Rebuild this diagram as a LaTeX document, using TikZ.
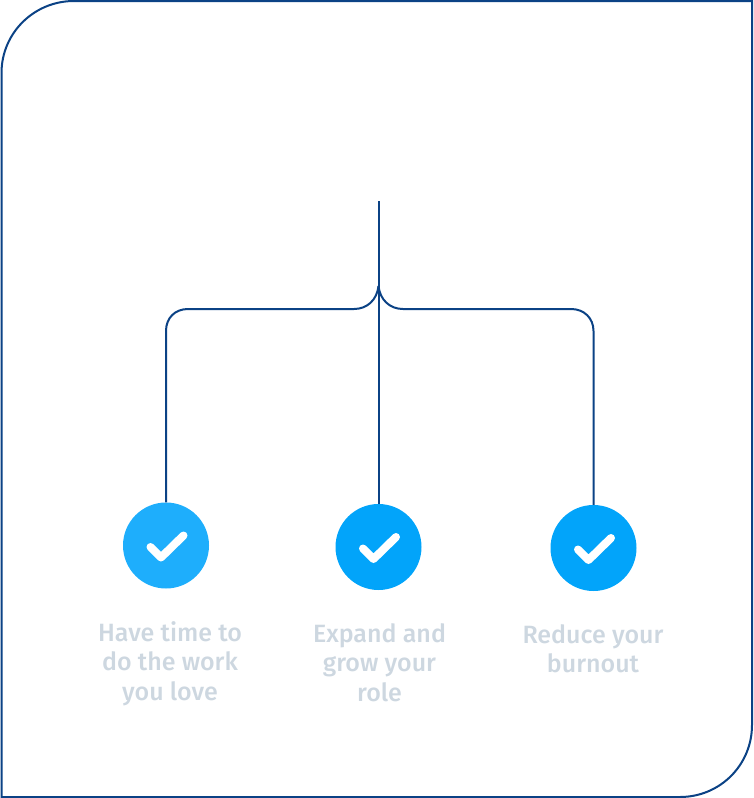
\documentclass[tikz,border=0pt]{standalone}
\usepackage{fontspec}
\setmainfont{Fira Sans Medium}
\definecolor{navy}{HTML}{0B4285}
\definecolor{skyA}{HTML}{1EAEFC}
\definecolor{skyB}{HTML}{02A4FA}
\definecolor{cap}{HTML}{CDD7E0}
\tikzset{
  line/.style={draw=navy,line width=2pt},
  dotnode/.style={circle,inner sep=0pt,minimum size=86pt},
  tick/.style={draw=white,line width=8pt,line cap=round,line join=round},
  caption/.style={text=cap,font=\fontsize{25}{29.5}\selectfont,align=center,inner sep=0pt,anchor=north}
}
\newcommand{\tickmark}[1]{\draw[tick] ([shift={(-15.5,1.5)}]#1.center) -- ([shift={(-5,12)}]#1.center) -- ([shift={(17.5,-10)}]#1.center);}
\begin{document}
\begin{tikzpicture}[x=1pt,y=-1pt]
\useasboundingbox (0,0) rectangle (753,798);
\draw[line] (74,1) -- (752,1) -- (752,725) .. controls (752,765) and (720,797) .. (680,797) -- (1.5,797) -- (1.5,73) .. controls (1.5,33) and (34,1) .. (74,1) -- cycle;
\node[dotnode,fill=skyA] (c1) at (166,545.5) {};
\node[dotnode,fill=skyB] (c2) at (378.5,547) {};
\node[dotnode,fill=skyB] (c3) at (593.5,548) {};
\coordinate (top) at (378.5,201);
\coordinate (hub) at (378.5,286);
\draw[line] (top) -- (c2.north);
\draw[line] (hub) .. controls (377,300) and (367,309) .. (354,309) -- (188,309) .. controls (175,309) and (166,318) .. (166,331) -- (c1.north);
\draw[line] (hub) .. controls (380,300) and (390,309) .. (403,309) -- (571,309) .. controls (584,309) and (593.5,318) .. (593.5,331) -- (c3.north);
\tickmark{c1}\tickmark{c2}\tickmark{c3}
\node[caption] (t1) at (170,621) {Have time to\\do the work\\you love};
\node[caption] (t2) at (379.5,623) {Expand and\\grow your\\role};
\node[caption] (t3) at (593,624) {Reduce your\\burnout};
\end{tikzpicture}
\end{document}
